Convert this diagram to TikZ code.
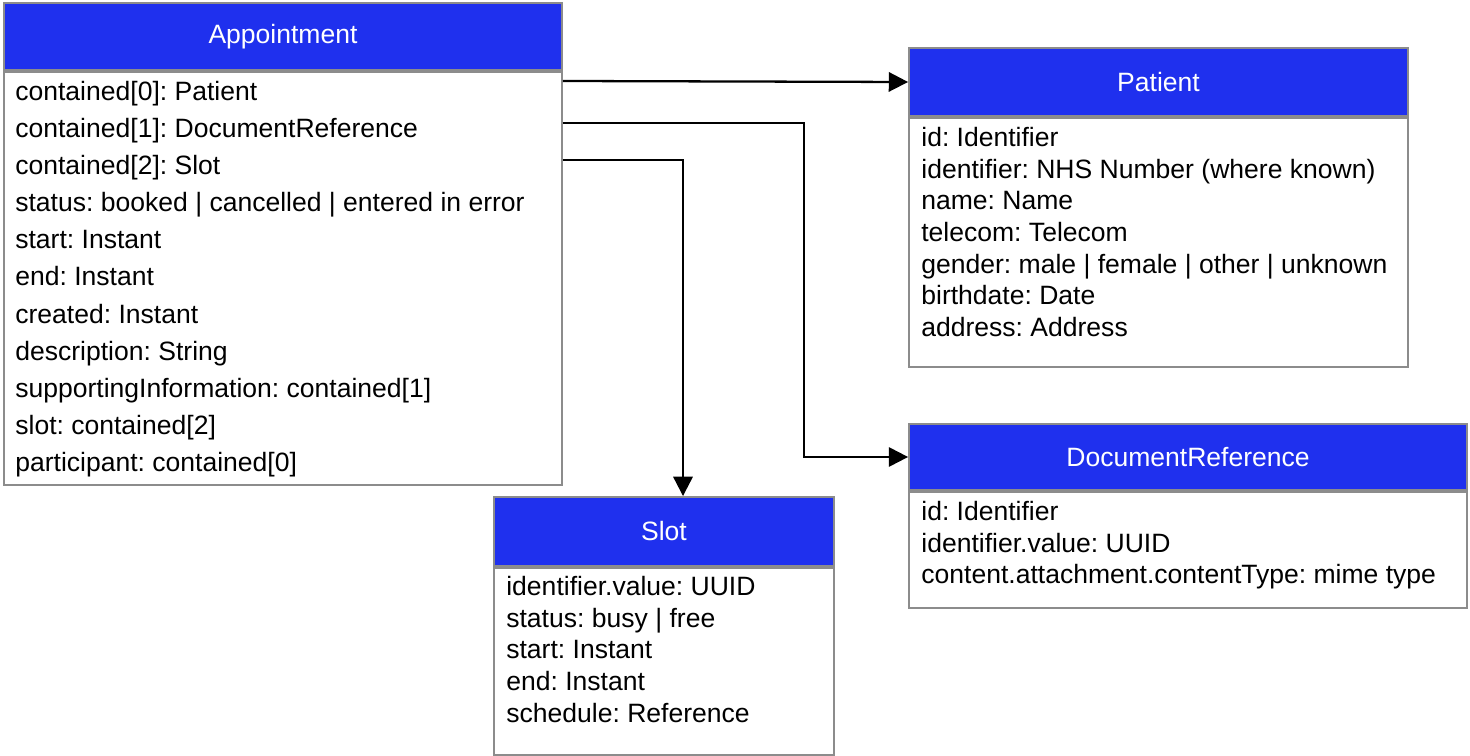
\documentclass[tikz,border=0pt]{standalone}
\usepackage{fontspec}
\setmainfont{Liberation Sans}
\usepackage{tikz}
\usepackage{xcolor}
\usetikzlibrary{arrows.meta, positioning}
\definecolor{headblue}{RGB}{31, 48, 238}
\definecolor{boxgray}{RGB}{140, 140, 140}
\frenchspacing

\begin{document}
\begin{tikzpicture}[
    x=0.02cm, y=-0.02cm,
    header/.style={rectangle, draw=boxgray, fill=headblue, text=white, line width=1.1pt, inner sep=0pt, font=\fontsize{15.1}{18}\selectfont},
    body/.style={rectangle, draw=boxgray, fill=white, line width=1.1pt, inner sep=0pt},
    attrs/.style={anchor=north west, align=left, inner sep=0pt, font=\fontsize{15.1}{18}\selectfont},
    arrow/.style={-{Triangle[length=11pt, width=11pt]}, line width=1.3pt}
]
\useasboundingbox (0,0) rectangle (1470,756);

\node[header, minimum width=11.16cm, minimum height=1.34cm] (appthead) at (283,36.5) {Appointment};
\node[body, minimum width=11.16cm, minimum height=8.26cm, below=0pt of appthead] (apptbody) {};
\node[attrs, font=\fontsize{15.1}{21.1}\selectfont] (apptattrs) at (15,81) {contained[0]: Patient\\contained[1]: DocumentReference\\contained[2]: Slot\\status: booked | cancelled | entered in error\\start: Instant\\end: Instant\\created: Instant\\description: String\\supportingInformation: contained[1]\\slot: contained[2]\\participant: contained[0]};

\node[header, minimum width=9.98cm, minimum height=1.36cm] (pathead) at (1158.5,82) {Patient};
\node[body, minimum width=9.98cm, minimum height=4.98cm, below=0pt of pathead] (patbody) {};
\node[attrs] (patattrs) at (921,127) {id: Identifier\\identifier: NHS Number (where known)\\name: Name\\telecom: Telecom\\gender: male | female | other | unknown\\birthdate: Date\\address: Address};

\node[header, minimum width=11.16cm, minimum height=1.32cm] (dochead) at (1188,457) {DocumentReference};
\node[body, minimum width=11.16cm, minimum height=2.32cm, below=0pt of dochead] (docbody) {};
\node[attrs] (docattrs) at (921,501) {id: Identifier\\identifier.value: UUID\\content.attachment.contentType: mime type};

\node[header, minimum width=6.8cm, minimum height=1.38cm] (slothead) at (664,531.5) {Slot};
\node[body, minimum width=6.8cm, minimum height=3.74cm, below=0pt of slothead] (slotbody) {};
\node[attrs] (slotattrs) at (506,576) {identifier.value: UUID\\status: busy | free\\start: Instant\\end: Instant\\schedule: Reference};

\coordinate (docbend) at (804,123);

\draw[arrow] (apptbody.east |- 0,81) -- (pathead.west);
\draw[arrow] (apptbody.east |- 0,123) -- (docbend) |- (dochead.west);
\draw[arrow] (apptbody.east |- 0,160) -| (683,0 |- slothead.north);

\end{tikzpicture}
\end{document}
